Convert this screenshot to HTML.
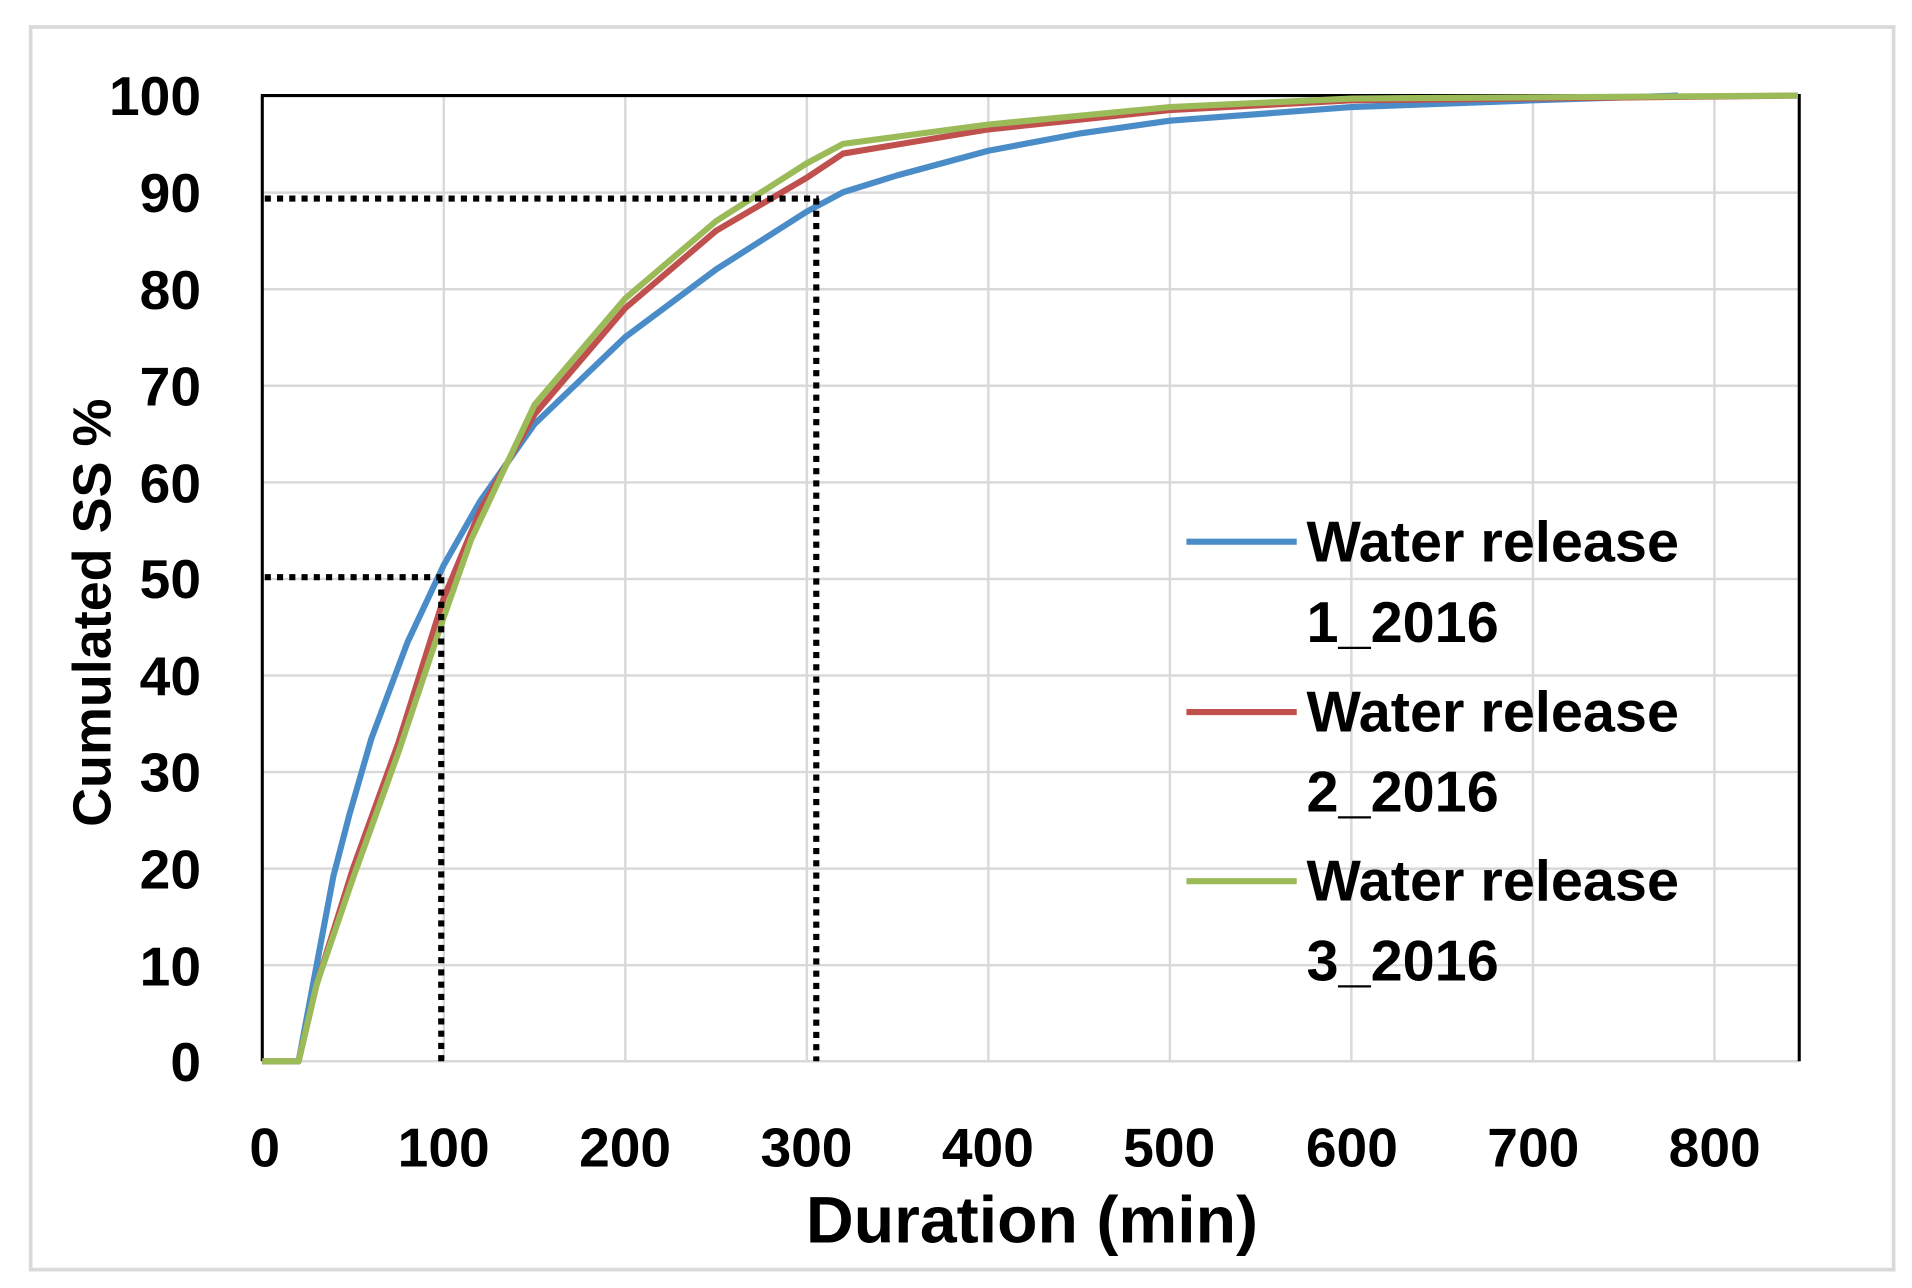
<!DOCTYPE html>
<html><head><meta charset="utf-8"><style>
html,body{margin:0;padding:0;background:#fff;}
svg{display:block;}
text{font-family:"Liberation Sans",Arial,sans-serif;font-weight:bold;fill:#000;}
</style></head><body>
<svg width="1912" height="1288" viewBox="0 0 1560 1051" preserveAspectRatio="none">
<rect x="0" y="0" width="1560" height="1051" fill="#fff"/>
<rect x="25" y="22" width="1520" height="1014" fill="#fff" stroke="#d9d9d9" stroke-width="3"/>
<g stroke="#d9d9d9" stroke-width="2">
<line x1="214" y1="157.2" x2="1468" y2="157.2"/><line x1="214" y1="236" x2="1468" y2="236"/>
<line x1="214" y1="314.8" x2="1468" y2="314.8"/><line x1="214" y1="393.6" x2="1468" y2="393.6"/>
<line x1="214" y1="472.4" x2="1468" y2="472.4"/><line x1="214" y1="551.2" x2="1468" y2="551.2"/>
<line x1="214" y1="630" x2="1468" y2="630"/><line x1="214" y1="708.8" x2="1468" y2="708.8"/>
<line x1="214" y1="787.6" x2="1468" y2="787.6"/>
<line x1="362.1" y1="78" x2="362.1" y2="866"/><line x1="510.2" y1="78" x2="510.2" y2="866"/>
<line x1="658.3" y1="78" x2="658.3" y2="866"/><line x1="806.4" y1="78" x2="806.4" y2="866"/>
<line x1="954.5" y1="78" x2="954.5" y2="866"/><line x1="1102.6" y1="78" x2="1102.6" y2="866"/>
<line x1="1250.7" y1="78" x2="1250.7" y2="866"/><line x1="1398.8" y1="78" x2="1398.8" y2="866"/>
<line x1="214" y1="866" x2="1468" y2="866"/>
</g>
<polyline fill="none" stroke="#000" stroke-width="2.5" points="214,866 214,78 1468,78 1468,866"/>
<g fill="none" stroke-width="5" stroke-linejoin="round">
<polyline stroke="#4a8cc8" points="214,866 243.6,866 258.4,787.2 272,715 285,665 302.9,603 332.5,524 362.1,461 391.7,409 436.2,345.9 510.2,275 584.3,219.8 658.3,172.6 687.9,156.8 732.4,143 806.4,123 880.5,109 954.5,98.5 1102.6,87.4 1250.7,81.9 1369.2,78"/>
<polyline stroke="#c0504d" points="214,866 243.6,866 258.4,803 288.1,708.4 325.1,606 362.1,487.8 391.7,416.8 436.2,338 510.2,251.4 584.3,188.3 658.3,145 687.9,125.3 806.4,105.6 954.5,89.8 1102.6,81.9 1467,78"/>
<polyline stroke="#9bbb59" points="214,866 243.6,866 258.4,803 288.1,716.3 325.1,613.8 362.1,503.5 384.3,440.5 436.2,330.2 510.2,243.5 584.3,180.4 658.3,133.2 687.9,117.4 806.4,101.6 954.5,87.4 1102.6,80.4 1467,78"/>
</g>
<g stroke="#000" stroke-width="5" stroke-dasharray="5 5" fill="none">
<line x1="216" y1="162" x2="668" y2="162"/><line x1="666" y1="162" x2="666" y2="866"/>
<line x1="216" y1="471" x2="360" y2="471"/><line x1="360" y1="471" x2="360" y2="866"/>
</g>
<g font-size="45" text-anchor="end">
<text x="164" y="94">100</text><text x="164" y="173">90</text><text x="164" y="252">80</text>
<text x="164" y="331">70</text><text x="164" y="410">60</text><text x="164" y="488">50</text>
<text x="164" y="567">40</text><text x="164" y="646">30</text><text x="164" y="725">20</text>
<text x="164" y="804">10</text><text x="164" y="882">0</text>
</g>
<g font-size="45" text-anchor="middle">
<text x="216" y="952">0</text><text x="362" y="952">100</text><text x="510" y="952">200</text>
<text x="658" y="952">300</text><text x="806" y="952">400</text><text x="954" y="952">500</text>
<text x="1103" y="952">600</text><text x="1251" y="952">700</text><text x="1399" y="952">800</text>
</g>
<text x="842" y="1014" font-size="54" text-anchor="middle">Duration (min)</text>
<text transform="translate(90,500) rotate(-90)" font-size="44" text-anchor="middle">Cumulated SS %</text>
<g stroke-width="5">
<line x1="968" y1="442" x2="1058" y2="442" stroke="#4a8cc8"/>
<line x1="968" y1="581" x2="1058" y2="581" stroke="#c0504d"/>
<line x1="968" y1="719" x2="1058" y2="719" stroke="#9bbb59"/>
</g>
<g font-size="47">
<text x="1066" y="458">Water release</text><text x="1066" y="524">1_2016</text>
<text x="1066" y="597">Water release</text><text x="1066" y="662">2_2016</text>
<text x="1066" y="735">Water release</text><text x="1066" y="800">3_2016</text>
</g>
</svg>
</body></html>
